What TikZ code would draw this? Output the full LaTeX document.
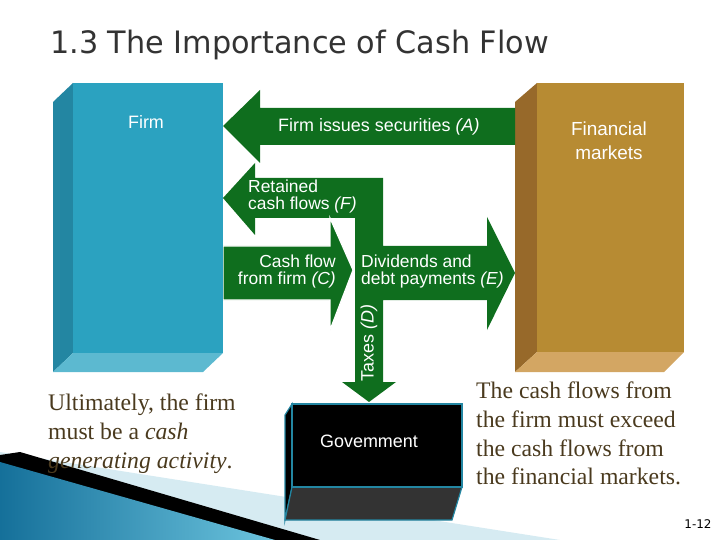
\documentclass[tikz,border=0pt]{standalone}
\usepackage{fontspec}
\setmainfont{Liberation Serif}
\newfontfamily\lsans{Liberation Sans}
\newfontfamily\tsans{DejaVu Sans}
\definecolor{firmF}{HTML}{2BA2C0}
\definecolor{firmS}{HTML}{2386A2}
\definecolor{firmB}{HTML}{5CB9D0}
\definecolor{fmF}{HTML}{B78B33}
\definecolor{fmS}{HTML}{97692A}
\definecolor{fmB}{HTML}{D3A663}
\definecolor{arr}{HTML}{0F6E1E}
\definecolor{txt}{HTML}{4A3A1E}
\definecolor{decoA}{HTML}{15709A}
\definecolor{decoB}{HTML}{6CC4DE}
\definecolor{decoL}{HTML}{D6EBF2}
\begin{document}
\begin{tikzpicture}[x=1bp,y=-1bp,
  lab/.style={font=\lsans\fontsize{18}{18}\selectfont,text=white,inner sep=0pt},
  lab2/.style={lab,font=\lsans\fontsize{17.5}{16.5}\selectfont},
  body/.style={font=\fontsize{23.8}{28.7}\selectfont,text=txt,align=left,anchor=north west,inner sep=0pt},
  grn/.style={fill=arr}]
\useasboundingbox (0,0) rectangle (720,540);
% decoration
\fill[decoL] (0,452) -- (560,540) -- (0,540) -- cycle;
\fill[black] (20,452) -- (320,540) -- (0,540) -- (0,455) -- cycle;
\shade[left color=decoA,right color=decoB] (0,462) -- (275,540) -- (0,540) -- cycle;
% title
\node[anchor=west,inner sep=0pt,font=\tsans\fontsize{31}{31}\selectfont,text=black!80,xscale=0.98] (title) at (50,45) {1.3 The Importance of Cash Flow};
% firm box
\fill[firmS] (53,102) -- (73,83) -- (73,353) -- (53,372) -- cycle;
\fill[firmB] (73,353) -- (223,353) -- (203,372) -- (53,372) -- cycle;
\fill[firmF] (73,83) rectangle (223,353);
\node[lab] (firm) at (146,122) {Firm};
% financial markets box
\fill[fmS] (515,102) -- (537,83) -- (537,352) -- (515,372) -- cycle;
\fill[fmB] (537,352) -- (684,352) -- (664,372) -- (515,372) -- cycle;
\fill[fmF] (537,83) rectangle (684,352);
\node[lab,align=center,font=\lsans\fontsize{19}{24}\selectfont] (fm) at (609,141) {Financial\\markets};
% arrow A
\fill[grn] (515,108) -- (260,108) -- (260,90) -- (223,126) -- (260,163) -- (260,145) -- (515,145) -- cycle;
% arrow F + D + E
\fill[grn] (383,178) -- (255,178) -- (255,163) -- (223,198) -- (255,235) -- (255,218) -- (355,218)
  -- (355,382) -- (342,382) -- (369,402) -- (396,382) -- (383,382) -- (383,300) -- (487,300) -- (487,330)
  -- (515,273) -- (487,217) -- (487,246) -- (383,246) -- cycle;
% arrow C
\fill[grn,draw=white,line width=1.2] (223,246) -- (330,246) -- (330,218) -- (353,270) -- (330,330) -- (330,300) -- (223,300) -- cycle;
\fill[firmF] (222,245) rectangle (223,301);
\node[lab,align=left,anchor=west] (A) at (278,127) {Firm issues securities \textit{(A)}};
\node[lab2,align=left,anchor=north west] (F) at (248,180) {Retained\\cash flows \textit{(F)}};
\node[lab2,align=right,anchor=north east] (C) at (336,255) {Cash flow\\from firm \textit{(C)}};
\node[lab2,align=left,anchor=north west] (E) at (361,255) {Dividends and\\debt payments \textit{(E)}};
\node[lab,rotate=90] (D) at (369,343) {Taxes \textit{(D)}};
% government box
\fill[black,draw=firmS,line width=1.2] (285,415) -- (292,404) -- (292,487) -- (285,520) -- cycle;
\fill[black!80,draw=firmS,line width=1.2] (292,487) -- (462,487) -- (452,520) -- (285,520) -- cycle;
\fill[black,draw=firmS,line width=1.2] (292,404) rectangle (462,487);
\node[lab] (gov) at (369,441) {Govemment};
% texts
\node[body] (left) at (48,394) {Ultimately, the firm\\must be a \textit{cash}\\\textit{generating activity}.};
\node[body] (right) at (476,382) {The cash flows from\\the firm must exceed\\the cash flows from\\the financial markets.};
\node[inner sep=0pt,font=\tsans\fontsize{12}{12}\selectfont] (pg) at (698,524) {1-12};
\end{tikzpicture}
\end{document}
